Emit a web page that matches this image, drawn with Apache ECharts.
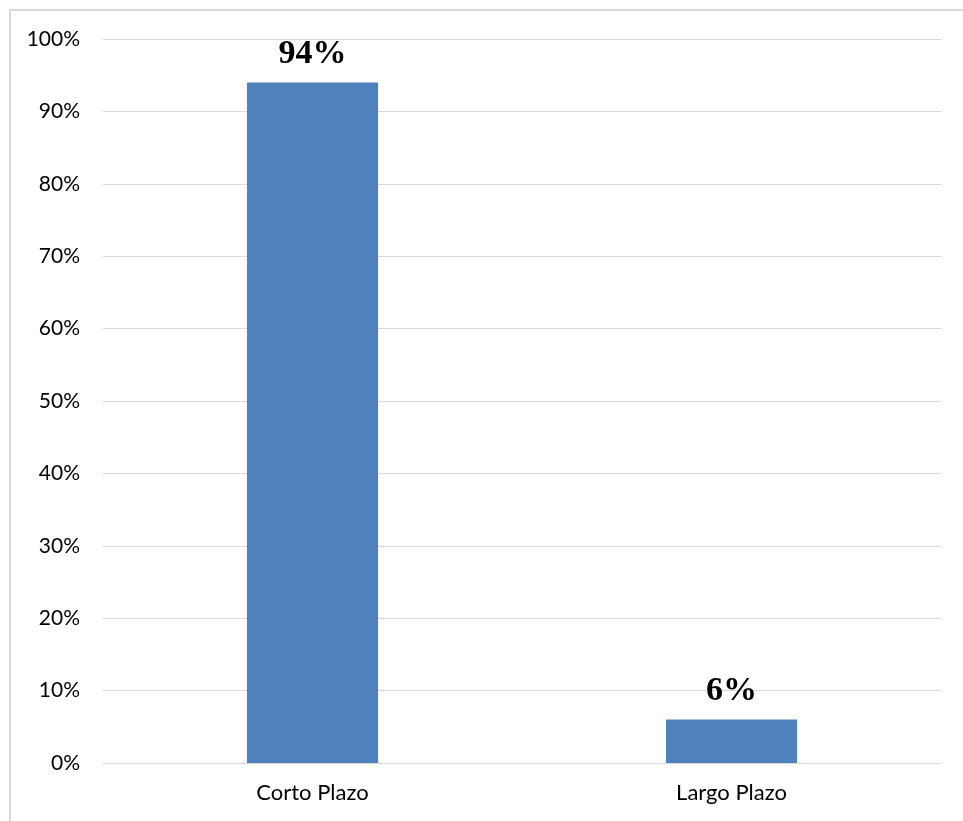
<!DOCTYPE html>
<html>
<head>
<meta charset="utf-8">
<script src="https://cdn.jsdelivr.net/npm/echarts@6/dist/echarts.min.js"></script>
<style>html,body{margin:0;padding:0;background:#fff;}#c{width:963px;height:821px;}</style>
</head>
<body>
<div id="c"></div>
<script>
const categories = ['Corto Plazo', 'Largo Plazo'];
const values = [94, 6];
const yTicks = [0, 10, 20, 30, 40, 50, 60, 70, 80, 90, 100];

const chart = echarts.init(document.getElementById('c'), null, {renderer: 'canvas'});
chart.setOption({
  animation: false,
  backgroundColor: '#ffffff',
  graphic: [{
    type: 'rect',
    shape: {x: 10, y: 10, width: 1000, height: 900},
    style: {fill: 'none', stroke: '#d9d9d9', lineWidth: 2},
    silent: true
  }],
  grid: {left: 103, right: 22, top: 39, bottom: 58, containLabel: false},
  xAxis: {
    type: 'category',
    data: categories,
    axisLine: {show: true, lineStyle: {color: '#d9d9d9', width: 1}},
    axisTick: {show: false},
    axisLabel: {color: '#000', fontFamily: 'Lato', fontSize: 22, margin: 19}
  },
  yAxis: {
    type: 'value',
    min: yTicks[0],
    max: yTicks[yTicks.length - 1],
    interval: 10,
    axisLine: {show: false},
    axisTick: {show: false},
    splitLine: {lineStyle: {color: '#d9d9d9', width: 1}},
    axisLabel: {color: '#000', fontFamily: 'Lato', fontSize: 21, margin: 23, formatter: v => v + '%'}
  },
  series: [{
    type: 'bar',
    data: values,
    barWidth: '31.3%',
    itemStyle: {color: '#4F81BD'},
    label: {
      show: true,
      position: 'top',
      distance: 11,
      formatter: p => p.value + '%',
      fontFamily: "'Liberation Serif', 'Times New Roman', serif",
      fontWeight: 'bold',
      fontSize: 34,
      color: '#000'
    }
  }]
});
</script>
</body>
</html>
